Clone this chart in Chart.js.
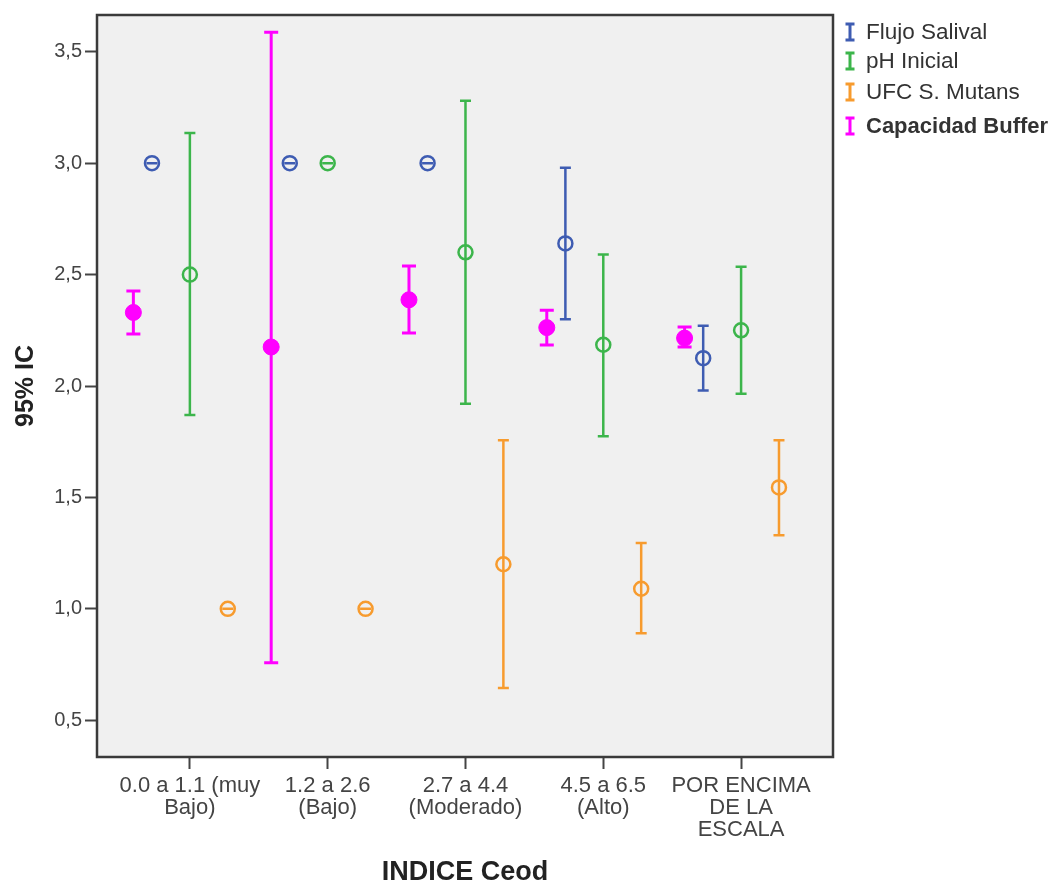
<!DOCTYPE html>
<html>
<head>
<meta charset="utf-8">
<script src="https://cdn.jsdelivr.net/npm/chart.js@4/dist/chart.umd.min.js"></script>
<style>
  html, body { margin: 0; padding: 0; background: #fff; }
  #wrap { width: 1062px; height: 886px; }
</style>
</head>
<body>
<div id="wrap"><canvas id="chart" width="1062" height="886"></canvas></div>
<script>
// Categories on the x axis (INDICE Ceod)
const categories = [
    ['0.0 a 1.1 (muy', 'Bajo)'],
    ['1.2 a 2.6', '(Bajo)'],
    ['2.7 a 4.4', '(Moderado)'],
    ['4.5 a 6.5', '(Alto)'],
    ['POR ENCIMA', 'DE LA', 'ESCALA'],
];
const yTicks = [0.5, 1.0, 1.5, 2.0, 2.5, 3.0, 3.5];

// Means and 95% CI bounds
const flujoMean = [3.0, 3.0, 3.0, 2.64, 2.125];
const flujoLow = [3.0, 3.0, 3.0, 2.30, 1.98];
const flujoHigh = [3.0, 3.0, 3.0, 2.98, 2.27];

const phMean = [2.50, 3.0, 2.60, 2.185, 2.25];
const phLow = [1.87, 3.0, 1.92, 1.775, 1.965];
const phHigh = [3.135, 3.0, 3.28, 2.59, 2.535];

const ufcMean = [1.0, 1.0, 1.20, 1.09, 1.545];
const ufcLow = [1.0, 1.0, 0.645, 0.89, 1.33];
const ufcHigh = [1.0, 1.0, 1.757, 1.295, 1.757];

const bufferMean = [2.33, 2.175, 2.387, 2.262, 2.215];
const bufferLow = [2.233, 0.758, 2.238, 2.184, 2.175];
const bufferHigh = [2.426, 3.588, 2.538, 2.34, 2.265];

const FONT = "'Liberation Sans', Arial, sans-serif";

function series(label, color, offset, mean, low, high, filled) {
    return {
        label: label,
        data: mean.map((v, i) => ({ x: i + offset, y: v })),
        errLow: low,
        errHigh: high,
        filled: filled,
        borderColor: color,
        backgroundColor: filled ? color : 'rgba(0,0,0,0)',
        pointRadius: filled ? 8 : 7,
        pointBorderWidth: filled ? 1 : 2.5,
        pointHoverRadius: filled ? 8 : 7,
        showLine: false,
    };
}

const datasets = [
    series('Flujo Salival', '#3e5cb2', -0.275, flujoMean, flujoLow, flujoHigh, false),
    series('pH Inicial', '#3cb54b', 0, phMean, phLow, phHigh, false),
    series('UFC S. Mutans', '#f79b2e', 0.275, ufcMean, ufcLow, ufcHigh, false),
    series('Capacidad Buffer', '#ff00ff', -0.41, bufferMean, bufferLow, bufferHigh, true),
];

const plotBackground = {
    id: 'plotBackground',
    beforeDraw(chart) {
        const { ctx, chartArea: a } = chart;
        ctx.save();
        ctx.fillStyle = '#f0f0f0';
        ctx.fillRect(a.left, a.top, a.right - a.left, a.bottom - a.top);
        ctx.restore();
    },
    afterDraw(chart) {
        const { ctx, chartArea: a } = chart;
        ctx.save();
        ctx.strokeStyle = '#3a3a3a';
        ctx.lineWidth = 2.5;
        ctx.strokeRect(a.left, a.top, a.right - a.left, a.bottom - a.top);
        ctx.restore();
    },
};

const errorBars = {
    id: 'errorBars',
    beforeDatasetsDraw(chart) {
        const { ctx, scales: { x, y } } = chart;
        ctx.save();
        chart.data.datasets.forEach((ds) => {
            const half = ds.filled ? 7 : 5.5;
            ctx.strokeStyle = ds.borderColor;
            ctx.lineWidth = ds.filled ? 3 : 2.5;
            ds.data.forEach((pt, i) => {
                const px = x.getPixelForValue(pt.x);
                const top = y.getPixelForValue(ds.errHigh[i]);
                const bot = y.getPixelForValue(ds.errLow[i]);
                ctx.beginPath();
                ctx.moveTo(px, top);
                ctx.lineTo(px, bot);
                ctx.moveTo(px - half, top);
                ctx.lineTo(px + half, top);
                ctx.moveTo(px - half, bot);
                ctx.lineTo(px + half, bot);
                ctx.stroke();
            });
        });
        ctx.restore();
    },
};

const sideLegend = {
    id: 'sideLegend',
    afterDraw(chart) {
        const { ctx } = chart;
        const rows = [32, 61, 92, 126];
        ctx.save();
        chart.data.datasets.forEach((ds, i) => {
            const cy = rows[i];
            const ix = 850;
            ctx.strokeStyle = ds.borderColor;
            ctx.lineWidth = 3;
            ctx.beginPath();
            ctx.moveTo(ix, cy - 8);
            ctx.lineTo(ix, cy + 8);
            ctx.moveTo(ix - 4.5, cy - 8);
            ctx.lineTo(ix + 4.5, cy - 8);
            ctx.moveTo(ix - 4.5, cy + 8);
            ctx.lineTo(ix + 4.5, cy + 8);
            ctx.stroke();
            ctx.fillStyle = '#333';
            ctx.font = (ds.filled ? 'bold 22px ' : '22.5px ') + FONT;
            ctx.textBaseline = 'middle';
            ctx.textAlign = 'left';
            ctx.fillText(ds.label, 866, cy + 1);
        });
        ctx.restore();
    },
};

new Chart(document.getElementById('chart').getContext('2d'), {
    type: 'scatter',
    data: { datasets: datasets },
    plugins: [plotBackground, errorBars, sideLegend],
    options: {
        responsive: false,
        animation: false,
        layout: { padding: { top: 13, right: 229, left: 0, bottom: 0 } },
        plugins: {
            legend: { display: false },
            tooltip: { enabled: false },
        },
        scales: {
            x: {
                type: 'linear',
                min: -0.674,
                max: 4.667,
                afterBuildTicks(scale) {
                    scale.ticks = categories.map((_, i) => ({ value: i }));
                },
                afterFit(scale) { scale.height = 129; },
                ticks: {
                    callback: (value) => categories[value],
                    color: '#444',
                    font: { family: FONT, size: 22, lineHeight: 1 },
                    padding: 6,
                    maxRotation: 0,
                    autoSkip: false,
                },
                grid: {
                    drawOnChartArea: false,
                    tickLength: 12,
                    tickWidth: 2,
                    tickColor: '#444',
                },
                border: { display: false },
                title: {
                    display: true,
                    text: 'INDICE Ceod',
                    color: '#222',
                    font: { family: FONT, size: 27, weight: 'bold', lineHeight: 1 },
                    padding: { top: 0, bottom: 0 },
                },
            },
            y: {
                min: 0.335,
                max: 3.665,
                afterBuildTicks(scale) {
                    scale.ticks = yTicks.map((v) => ({ value: v }));
                },
                afterFit(scale) { scale.width = 97; },
                ticks: {
                    callback: (value) => value.toFixed(1).replace('.', ','),
                    color: '#444',
                    font: { family: FONT, size: 20 },
                    padding: 3,
                },
                grid: {
                    drawOnChartArea: false,
                    tickLength: 12,
                    tickWidth: 2,
                    tickColor: '#444',
                },
                border: { display: false },
                title: {
                    display: true,
                    text: '95% IC',
                    color: '#222',
                    font: { family: FONT, size: 25, weight: 'bold', lineHeight: 1 },
                    padding: { top: 14, bottom: 0 },
                },
            },
        },
    },
});
</script>
</body>
</html>
